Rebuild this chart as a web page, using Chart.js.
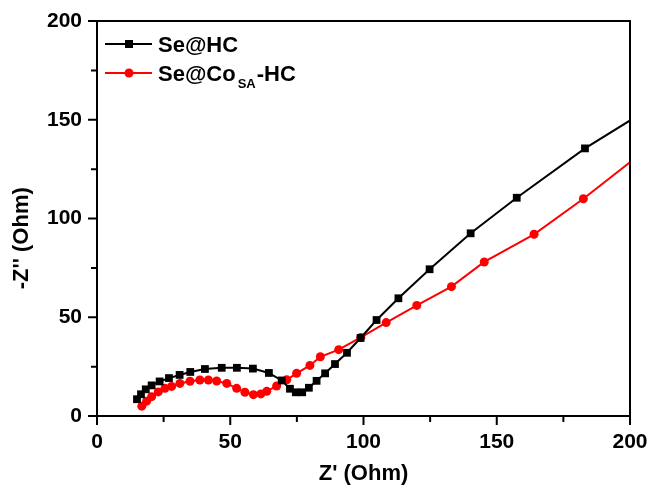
<!DOCTYPE html>
<html>
<head>
<meta charset="utf-8">
<script src="https://cdn.jsdelivr.net/npm/chart.js@4.4.0/dist/chart.umd.min.js"></script>
<style>
    html, body { margin: 0; padding: 0; background: #fff; }
    #chartNyquist { display: block; }
</style>
</head>
<body>
<canvas id="chartNyquist" width="649" height="486"></canvas>
<script>
// Se@HC : Z' / -Z''
const seHcZre = [15.0, 16.5, 18.3, 20.5, 23.5, 27.0, 31.0, 35.0, 40.5, 46.8, 52.5, 58.5, 64.5, 69.3, 72.4, 74.6, 77.0, 79.5, 82.4, 85.6, 89.3, 93.8, 98.9, 104.9, 113.1, 124.8, 140.2, 157.5, 183.1, 210.0];
const seHcZim = [8.5, 11.0, 13.5, 15.5, 17.5, 19.2, 20.8, 22.3, 23.8, 24.4, 24.4, 24.0, 21.8, 18.0, 13.8, 12.0, 12.0, 14.3, 17.8, 21.6, 26.3, 32.0, 39.5, 48.6, 59.6, 74.3, 92.5, 110.5, 135.5, 158.0];

// Se@CoSA-HC : Z' / -Z''
const seCoZre = [16.8, 18.6, 20.5, 23.0, 25.5, 28.0, 31.1, 34.9, 38.6, 41.8, 44.9, 48.7, 52.4, 55.5, 58.7, 61.5, 63.7, 67.4, 71.2, 74.9, 79.9, 83.8, 90.7, 99.0, 108.5, 120.0, 133.0, 145.3, 164.0, 182.5, 210.0];
const seCoZim = [5.0, 7.5, 9.8, 12.2, 14.0, 15.0, 16.5, 17.6, 18.2, 18.2, 17.7, 16.5, 14.0, 12.0, 10.8, 11.2, 12.5, 15.2, 18.3, 21.6, 25.6, 30.0, 33.6, 39.8, 47.3, 56.0, 65.5, 78.0, 92.0, 110.0, 139.0];

const xTicks = [0, 50, 100, 150, 200];
const yTicks = [0, 50, 100, 150, 200];
const minorStep = 25;

const xTitle = "Z' (Ohm)";
const yTitle = "-Z'' (Ohm)";
// second legend entry: base, subscript, tail
const legendHc = "Se@HC";
const legendCo = ["Se@Co", "SA", "-HC"];

const FONT = "Arial, 'Liberation Sans', sans-serif";

const toPoints = (xs, ys) => xs.map((x, i) => ({ x, y: ys[i] }));

// frame, outward ticks, axis titles, legend
const decorations = {
    id: "decorations",
    afterDraw(chart) {
        const { ctx, chartArea: a, scales } = chart;
        ctx.save();
        ctx.strokeStyle = "#000";
        ctx.lineWidth = 2;
        ctx.strokeRect(a.left, a.top, a.right - a.left, a.bottom - a.top);

        ctx.beginPath();
        for (let v = xTicks[0]; v <= xTicks[xTicks.length - 1]; v += minorStep) {
            const len = xTicks.includes(v) ? 9 : 6;
            const px = scales.x.getPixelForValue(v);
            ctx.moveTo(px, a.bottom);
            ctx.lineTo(px, a.bottom + len);
        }
        for (let v = yTicks[0]; v <= yTicks[yTicks.length - 1]; v += minorStep) {
            const len = yTicks.includes(v) ? 9 : 6;
            const py = scales.y.getPixelForValue(v);
            ctx.moveTo(a.left - len, py);
            ctx.lineTo(a.left, py);
        }
        ctx.stroke();

        // axis titles
        ctx.fillStyle = "#000";
        ctx.font = "bold 22px " + FONT;
        ctx.textAlign = "center";
        ctx.textBaseline = "middle";
        ctx.fillText(xTitle, (a.left + a.right) / 2, 474);
        ctx.save();
        ctx.translate(22, a.top + (a.bottom - a.top) * 0.55);
        ctx.rotate(-Math.PI / 2);
        ctx.fillText(yTitle, 0, 0);
        ctx.restore();

        // legend
        const lx0 = a.left + 8, lx1 = a.left + 55, mx = a.left + 32;
        const tx = a.left + 61;
        ctx.lineWidth = 2;
        ctx.strokeStyle = "#000";
        ctx.beginPath();
        ctx.moveTo(lx0, 44); ctx.lineTo(lx1, 44);
        ctx.stroke();
        ctx.fillStyle = "#000";
        ctx.fillRect(mx - 4, 40, 8, 8);

        ctx.strokeStyle = "#f00";
        ctx.beginPath();
        ctx.moveTo(lx0, 73); ctx.lineTo(lx1, 73);
        ctx.stroke();
        ctx.fillStyle = "#f00";
        ctx.beginPath();
        ctx.arc(mx, 73, 4.5, 0, Math.PI * 2);
        ctx.fill();

        ctx.fillStyle = "#000";
        ctx.textAlign = "left";
        ctx.textBaseline = "alphabetic";
        ctx.font = "bold 22px " + FONT;
        ctx.fillText(legendHc, tx, 52);
        ctx.fillText(legendCo[0], tx, 81);
        let w = ctx.measureText(legendCo[0]).width + 2;
        ctx.font = "bold 13px " + FONT;
        ctx.fillText(legendCo[1], tx + w, 88);
        w += ctx.measureText(legendCo[1]).width + 1;
        ctx.font = "bold 22px " + FONT;
        ctx.fillText(legendCo[2], tx + w, 81);
        ctx.restore();
    }
};

document.addEventListener("DOMContentLoaded", () => {
    const ctx = document.getElementById("chartNyquist");
    if (!ctx) return;

    new Chart(ctx, {
        type: "line",
        data: {
            datasets: [
                {
                    label: legendHc,
                    data: toPoints(seHcZre, seHcZim),
                    borderColor: "#000",
                    backgroundColor: "#000",
                    borderWidth: 2,
                    pointStyle: "rect",
                    pointRadius: 5.5,
                    pointBorderWidth: 0,
                    tension: 0
                },
                {
                    label: legendCo.join(""),
                    data: toPoints(seCoZre, seCoZim),
                    borderColor: "#f00",
                    backgroundColor: "#f00",
                    borderWidth: 2,
                    pointStyle: "circle",
                    pointRadius: 4.5,
                    pointBorderWidth: 0,
                    tension: 0
                }
            ]
        },
        options: {
            responsive: false,
            animation: false,
            layout: { padding: { top: 21, right: 19, left: 0, bottom: 0 } },
            plugins: {
                legend: { display: false },
                tooltip: { enabled: false }
            },
            scales: {
                x: {
                    type: "linear",
                    min: 0,
                    max: 200,
                    afterBuildTicks: s => { s.ticks = xTicks.map(value => ({ value })); },
                    afterFit: s => {
                        s.height = 70;
                        s.paddingLeft = 0;
                        s.paddingRight = 0;
                    },
                    grid: { display: false, drawTicks: false },
                    border: { display: false },
                    ticks: {
                        padding: 14,
                        color: "#000",
                        font: { family: FONT, size: 21, weight: "bold" },
                        maxRotation: 0
                    }
                },
                y: {
                    type: "linear",
                    min: 0,
                    max: 200,
                    afterBuildTicks: s => { s.ticks = yTicks.map(value => ({ value })); },
                    afterFit: s => {
                        s.width = 97;
                        s.paddingTop = 0;
                        s.paddingBottom = 0;
                    },
                    grid: { display: false, drawTicks: false },
                    border: { display: false },
                    ticks: {
                        padding: 15,
                        color: "#000",
                        font: { family: FONT, size: 21, weight: "bold" }
                    }
                }
            }
        },
        plugins: [decorations]
    });
});
</script>
</body>
</html>
